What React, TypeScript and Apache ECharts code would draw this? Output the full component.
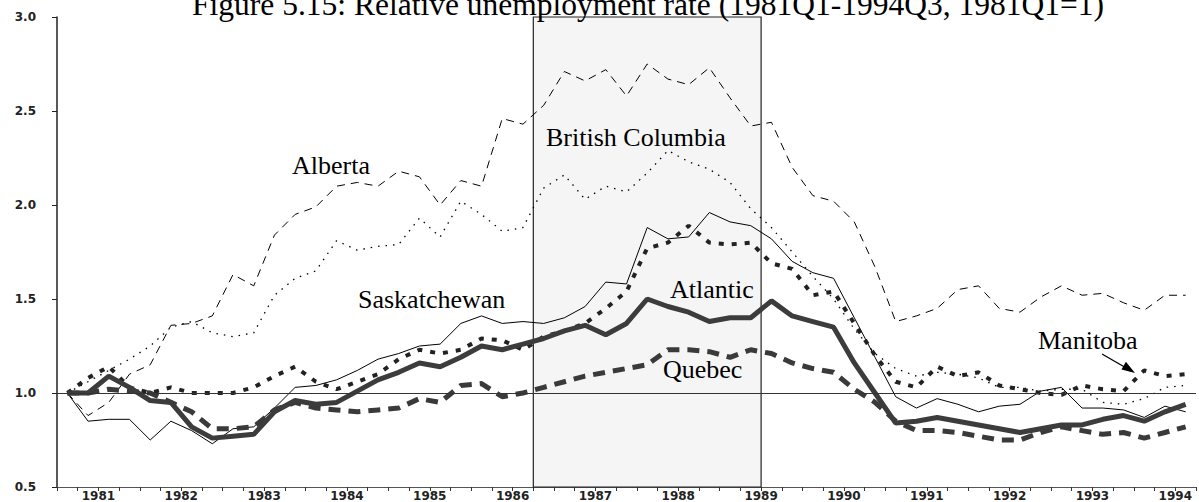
import React, { useEffect, useRef } from 'react';
import * as echarts from 'echarts';

// Quarters 1981Q1 .. 1994Q3 (55 points), x = quarter index
const yearLabels = ['1981','1982','1983','1984','1985','1986','1987','1988','1989','1990','1991','1992','1993','1994'];
const yTicks = [0.5, 1.0, 1.5, 2.0, 2.5, 3.0];

const alberta = [1.00,0.88,0.95,1.10,1.15,1.36,1.37,1.41,1.63,1.57,1.84,1.95,1.99,2.10,2.12,2.10,2.18,2.15,2.00,2.13,2.10,2.46,2.43,2.53,2.71,2.66,2.72,2.58,2.75,2.67,2.64,2.73,2.57,2.42,2.44,2.20,2.05,2.02,1.91,1.67,1.38,1.41,1.45,1.55,1.57,1.45,1.43,1.51,1.57,1.52,1.53,1.48,1.44,1.52,1.52];
const britishColumbia = [1.00,1.06,1.12,1.18,1.25,1.35,1.38,1.32,1.30,1.32,1.52,1.61,1.65,1.81,1.76,1.78,1.79,1.93,1.83,2.02,1.95,1.86,1.88,2.09,2.16,2.03,2.10,2.07,2.17,2.29,2.23,2.19,2.12,1.98,1.88,1.75,1.62,1.50,1.34,1.21,1.13,1.09,1.11,1.10,1.08,1.03,1.03,1.01,1.02,1.02,0.95,0.94,0.97,1.03,1.04];
const saskatchewan = [1.00,0.85,0.86,0.86,0.75,0.85,0.80,0.73,0.81,0.82,0.92,1.03,1.04,1.07,1.12,1.18,1.21,1.25,1.26,1.37,1.41,1.37,1.38,1.37,1.40,1.46,1.59,1.58,1.88,1.82,1.83,1.96,1.91,1.89,1.82,1.70,1.64,1.61,1.40,1.19,0.98,0.92,0.97,0.94,0.90,0.93,0.94,1.01,1.03,0.92,0.92,0.91,0.87,0.93,0.90];
const atlantic = [1.00,1.00,1.09,1.03,0.96,0.95,0.82,0.76,0.77,0.78,0.90,0.96,0.94,0.95,1.01,1.07,1.11,1.16,1.14,1.19,1.25,1.23,1.26,1.29,1.33,1.36,1.31,1.37,1.50,1.46,1.43,1.38,1.40,1.40,1.49,1.41,1.38,1.35,1.16,1.00,0.84,0.85,0.87,0.85,0.83,0.81,0.79,0.81,0.83,0.83,0.86,0.88,0.85,0.90,0.94];
const quebec = [1.00,1.00,1.02,1.01,1.00,0.95,0.90,0.81,0.81,0.82,0.91,0.95,0.92,0.91,0.90,0.91,0.92,0.97,0.95,1.04,1.05,0.98,1.00,1.03,1.06,1.09,1.11,1.13,1.15,1.23,1.23,1.22,1.19,1.23,1.21,1.16,1.13,1.11,1.02,0.95,0.85,0.80,0.80,0.79,0.77,0.75,0.75,0.79,0.82,0.80,0.78,0.79,0.76,0.79,0.82];
const manitoba = [1.00,1.08,1.14,1.03,1.00,1.03,1.00,1.00,1.00,1.03,1.09,1.14,1.06,1.02,1.06,1.10,1.18,1.23,1.21,1.23,1.29,1.28,1.23,1.30,1.33,1.37,1.45,1.54,1.77,1.80,1.89,1.80,1.79,1.80,1.69,1.66,1.52,1.54,1.37,1.20,1.06,1.03,1.14,1.09,1.11,1.04,1.02,1.00,0.99,1.04,1.02,1.01,1.12,1.09,1.10];

// shaded period (quarter-index boundaries): 1986Q4 .. 1989Q2
const shadeStart = 22.5;
const shadeEnd = 33.5;

const toPairs = (arr: number[]) => arr.map((v, i) => [i, v]);

export default function App() {
  const ref = useRef<HTMLDivElement>(null);
  useEffect(() => {
    document.body.style.margin = '0';
    if (!ref.current) return;
    const chart = echarts.init(ref.current, undefined, { renderer: 'svg' });
    const serif = '"Liberation Serif", "Times New Roman", serif';
    const labelFont = 'DejaVu Sans';
    const lbl = (text: string, x: number, baseline: number) => ({
      type: 'text', x, y: baseline - 8.8, z: 100,
      style: { text, fontSize: 26, fontFamily: serif, fill: '#000', align: 'left', verticalAlign: 'middle' },
    });
    const option: any = {
      animation: false,
      grid: { left: 57, right: 0.5, top: 17, bottom: 15, containLabel: false },
      xAxis: {
        type: 'value', min: -0.5, max: 54.5, interval: 1,
        axisLine: { show: true, onZero: false, lineStyle: { color: '#555', width: 1 } },
        axisTick: { show: true, length: 4, lineStyle: { color: '#333' } },
        splitLine: { show: false },
        axisLabel: {
          margin: 3, fontSize: 12, fontWeight: 'bold', fontFamily: labelFont, color: '#222',
          showMinLabel: true, showMaxLabel: true,
          formatter: (v: number) => {
            const k = (v - 1.5) / 4;
            if (Math.abs(k - Math.round(k)) < 1e-6) {
              const idx = Math.round(k);
              return yearLabels[idx] ?? '';
            }
            return '';
          },
        },
      },
      yAxis: {
        type: 'value', min: yTicks[0], max: yTicks[yTicks.length - 1], interval: 0.5,
        axisLine: { show: true, onZero: false, lineStyle: { color: '#222', width: 1.5 } },
        axisTick: { show: true, length: 5, lineStyle: { color: '#222' } },
        splitLine: { show: false },
        axisLabel: {
          margin: 21, fontSize: 12, fontWeight: 'bold', fontFamily: labelFont, color: '#222',
          formatter: (v: number) => v.toFixed(1),
        },
      },
      series: [
        {
          type: 'line', data: [], z: 1, silent: true,
          markArea: {
            silent: true,
            itemStyle: { color: '#f5f5f5', borderColor: '#222', borderWidth: 1.2 },
            data: [[{ xAxis: shadeStart }, { xAxis: shadeEnd }]],
          },
          markLine: {
            silent: true, symbol: 'none', label: { show: false },
            lineStyle: { color: '#333', width: 1, type: 'solid' },
            data: [{ yAxis: 1 }],
          },
        },
        { name: 'Alberta', type: 'line', z: 3, data: toPairs(alberta), showSymbol: false, lineStyle: { color: '#000', width: 1, type: [8, 6] } },
        { name: 'British Columbia', type: 'line', z: 3, data: toPairs(britishColumbia), showSymbol: false, lineStyle: { color: '#000', width: 1.3, type: [1.5, 6] } },
        { name: 'Saskatchewan', type: 'line', z: 3, data: toPairs(saskatchewan), showSymbol: false, lineStyle: { color: '#000', width: 1 } },
        { name: 'Quebec', type: 'line', z: 3, data: toPairs(quebec), showSymbol: false, lineStyle: { color: '#3a3a3a', width: 5, type: [12, 8] } },
        { name: 'Manitoba', type: 'line', z: 3, data: toPairs(manitoba), showSymbol: false, lineStyle: { color: '#222', width: 4, type: [5, 8] } },
        { name: 'Atlantic', type: 'line', z: 3, data: toPairs(atlantic), showSymbol: false, lineStyle: { color: '#3c3c3c', width: 5 } },
      ],
      graphic: [
        {
          type: 'text', x: 648, y: 4.4, z: 100,
          style: { text: 'Figure 5.15: Relative unemployment rate (1981Q1-1994Q3, 1981Q1=1)', fontSize: 31.5, fontFamily: serif, fill: '#000', align: 'center', verticalAlign: 'middle' },
        },
        lbl('Alberta', 292, 174),
        lbl('British Columbia', 546, 146),
        lbl('Saskatchewan', 358, 308),
        lbl('Atlantic', 670, 298),
        lbl('Quebec', 663, 378),
        lbl('Manitoba', 1038, 349),
        { type: 'line', z: 100, shape: { x1: 1102, y1: 354, x2: 1128, y2: 369 }, style: { stroke: '#000', lineWidth: 1.3 } },
        { type: 'polygon', z: 100, shape: { points: [[1135, 373], [1121.5, 369.6], [1125.9, 361.8]] }, style: { fill: '#000' } },
      ],
    };
    chart.setOption(option);
    return () => chart.dispose();
  }, []);
  return <div ref={ref} style={{ width: 1199, height: 502 }} />;
}
